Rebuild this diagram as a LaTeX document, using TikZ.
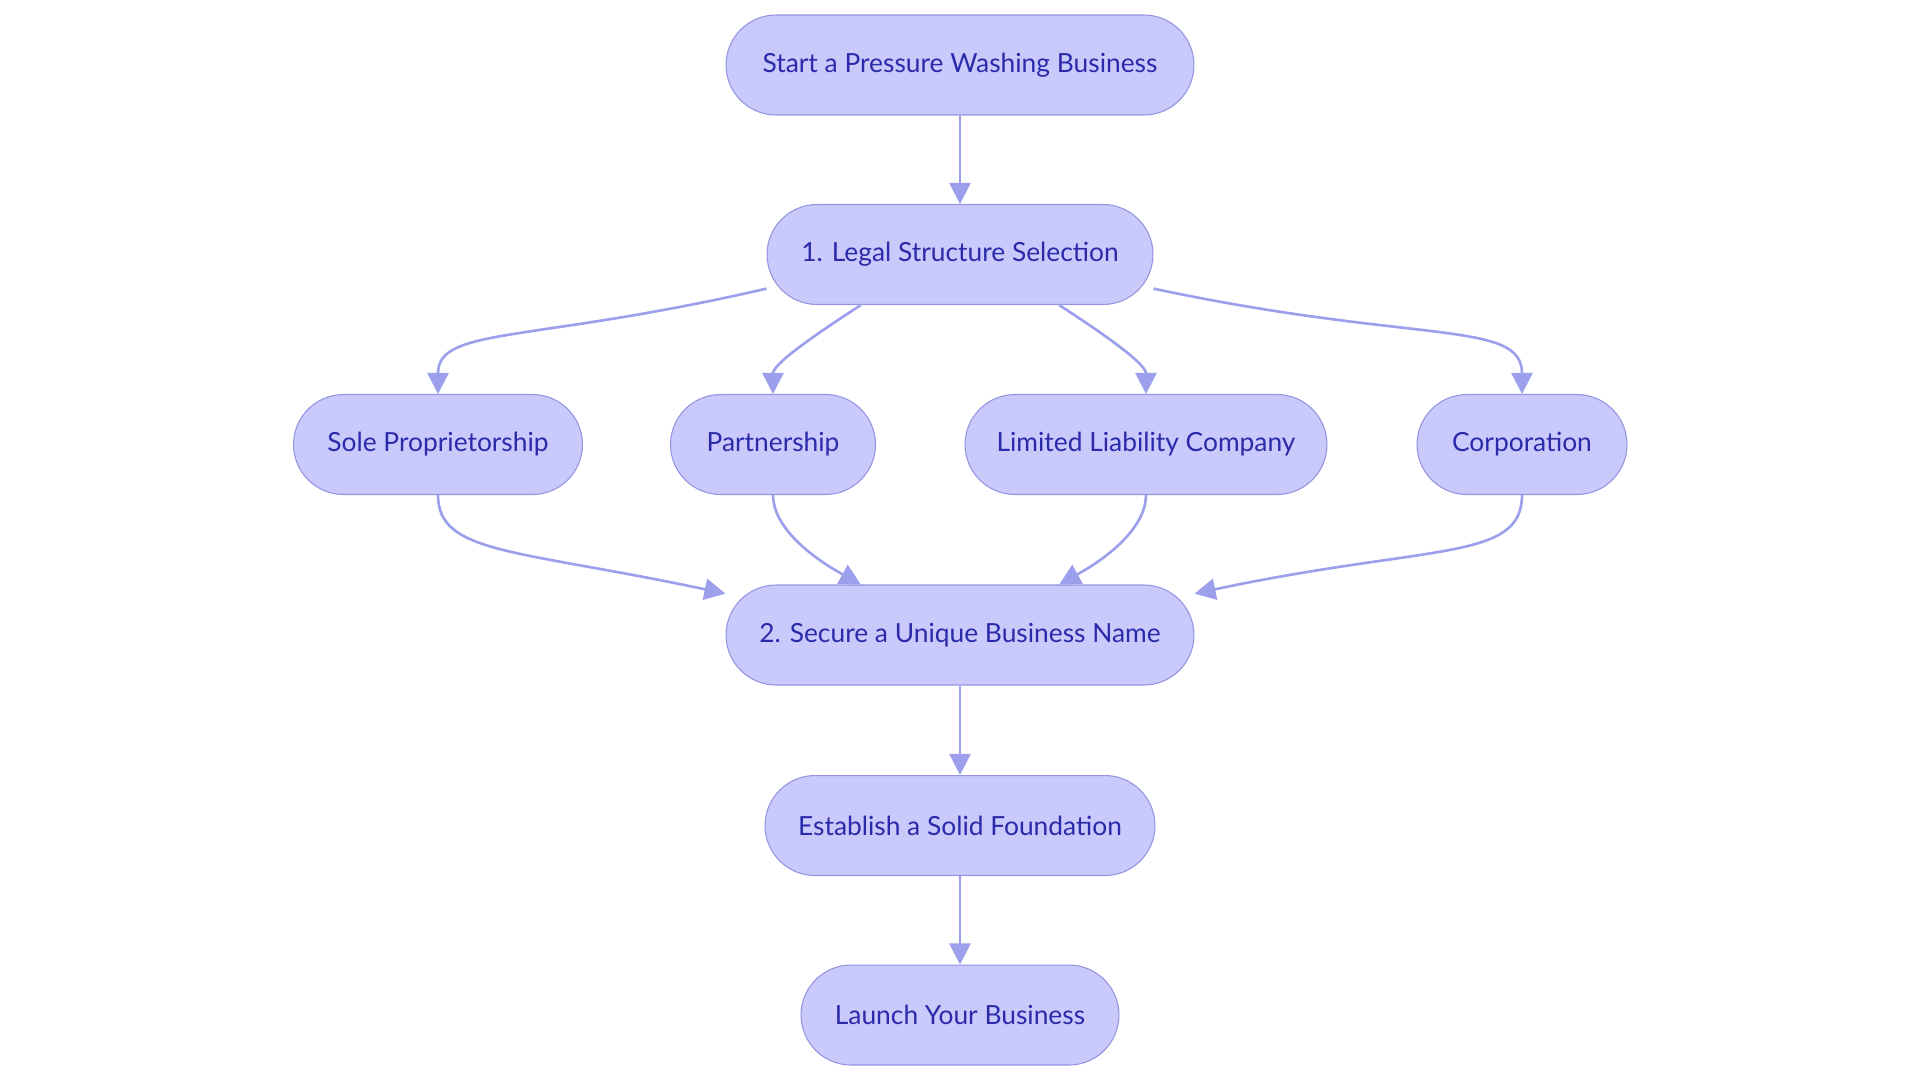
\documentclass[tikz,border=0pt]{standalone}
\usepackage{fontspec}
\setmainfont{Lato}
\usetikzlibrary{arrows.meta}
\definecolor{boxfill}{RGB}{201,201,251}
\definecolor{boxline}{RGB}{148,148,226}
\definecolor{linkcol}{RGB}{156,160,236}
\definecolor{txtcol}{RGB}{42,42,170}
\begin{document}
\begin{tikzpicture}[x=0.02cm,y=0.02cm]
              \useasboundingbox (0,0) rectangle (1920,-1080);
              \tikzstyle{every node} = [draw=boxline, line width=0.6pt, fill=boxfill, rounded corners=1cm,
                minimum height=2cm, inner sep=0pt, text=txtcol, font=\fontsize{15pt}{18pt}\selectfont];
              \tikzstyle{link} = [color=linkcol, line width=1.5pt, -{Triangle[length=12pt,width=12pt]}];
              \tikzstyle{bendin} = [out looseness=1.8, in looseness=0.5];
              \tikzstyle{bendout} = [out looseness=0.5, in looseness=1.8];
              \foreach \name/\x/\y/\w/\txt in {start/960/65/9.36/Start a Pressure Washing Business,
                legal/960/254.5/7.72/1. Legal Structure Selection,
                sole/438/444.5/5.78/Sole Proprietorship,
                partner/773/444.5/4.10/Partnership,
                llc/1146/444.5/7.24/Limited Liability Company,
                corp/1522/444.5/4.20/Corporation,
                secure/960/635/9.36/2. Secure a Unique Business Name,
                found/960/825.5/7.80/Establish a Solid Foundation,
                launch/960/1015/6.36/Launch Your Business}{
                \node[minimum width=\w cm] (\name) at (\x,-\y) {\txt};
              }
              \path[link]
              (start) edge (legal)
              (legal.190) edge[out=193, in=90, bendin] (sole.north)
              (legal.207) edge[out=213, in=90, out looseness=1.3, in looseness=0.6] (partner.north)
              (legal.333) edge[out=327, in=90, out looseness=1.3, in looseness=0.6] (llc.north)
              (legal.350) edge[out=348, in=90, bendin] (corp.north)
              (sole.south) edge[out=270, in=168, bendout] (secure.170)
              (partner.south) edge[out=270, in=151, out looseness=0.6, in looseness=1.3] (secure.153)
              (llc.south) edge[out=270, in=29, out looseness=0.6, in looseness=1.3] (secure.27)
              (corp.south) edge[out=270, in=12, bendout] (secure.10)
              (secure) edge (found)
              (found) edge (launch);
            \end{tikzpicture}
\end{document}
